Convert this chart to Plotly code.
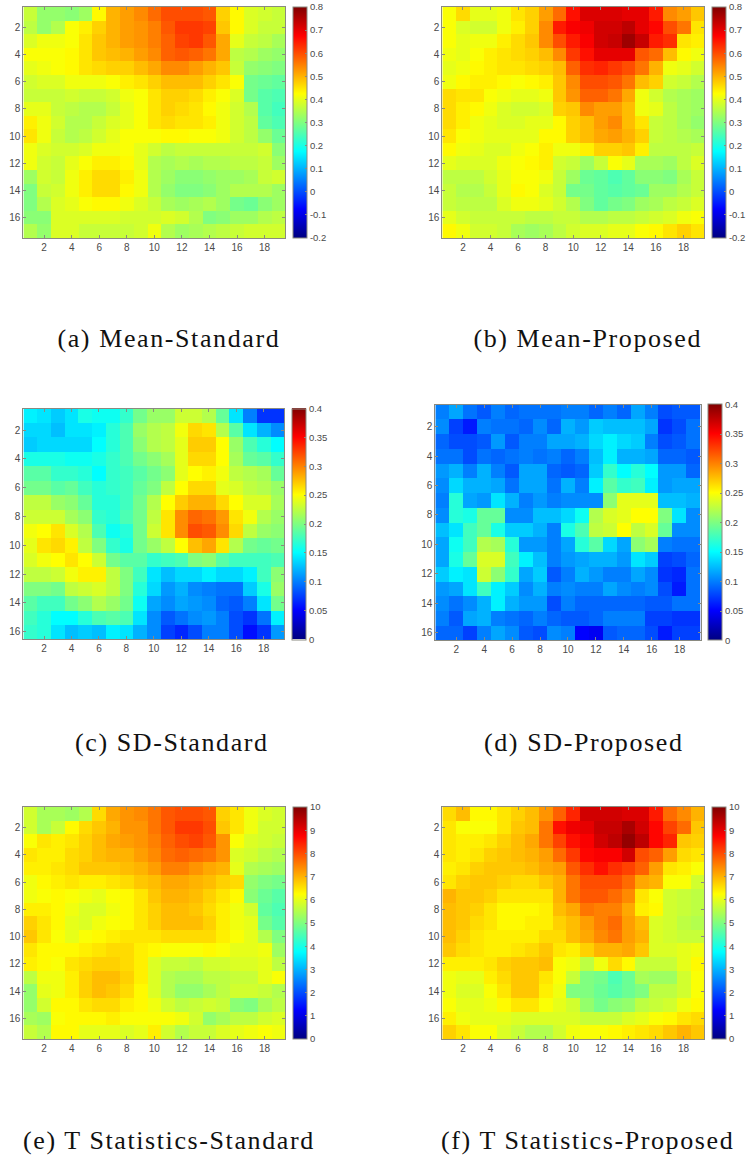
import plotly.graph_objects as go

mean_standard = [
[.37,.32,.32,.31,.33,.43,.50,.52,.54,.57,.60,.60,.60,.59,.47,.43,.39,.38,.37],
[.36,.32,.35,.42,.44,.47,.50,.52,.53,.55,.59,.62,.62,.61,.48,.43,.39,.37,.37],
[.39,.41,.41,.42,.45,.48,.50,.52,.53,.55,.58,.61,.62,.59,.51,.40,.37,.36,.34],
[.42,.42,.42,.43,.45,.48,.49,.50,.52,.54,.58,.59,.58,.56,.51,.36,.35,.33,.32],
[.40,.41,.42,.43,.45,.46,.47,.47,.49,.51,.54,.54,.52,.50,.48,.37,.32,.31,.30],
[.38,.39,.39,.41,.41,.41,.42,.44,.45,.47,.49,.49,.49,.47,.45,.42,.29,.28,.27],
[.37,.37,.37,.38,.37,.37,.38,.41,.42,.45,.47,.47,.46,.44,.42,.39,.29,.26,.25],
[.40,.40,.37,.36,.35,.35,.37,.40,.42,.45,.47,.46,.45,.43,.41,.38,.35,.26,.24],
[.44,.41,.38,.35,.35,.37,.39,.40,.42,.45,.46,.45,.45,.44,.41,.38,.36,.27,.25],
[.45,.41,.37,.35,.36,.38,.40,.42,.42,.42,.43,.43,.42,.42,.41,.38,.36,.32,.28],
[.41,.39,.38,.38,.39,.41,.41,.42,.40,.38,.36,.37,.37,.37,.37,.37,.37,.38,.31],
[.41,.38,.37,.40,.42,.44,.44,.43,.40,.35,.34,.35,.34,.35,.35,.36,.36,.37,.33],
[.33,.38,.37,.41,.44,.46,.46,.44,.41,.35,.33,.31,.31,.32,.33,.33,.34,.37,.38],
[.30,.37,.38,.41,.44,.46,.46,.43,.41,.35,.32,.30,.30,.31,.33,.35,.35,.35,.33],
[.30,.35,.39,.40,.42,.43,.43,.41,.39,.37,.34,.33,.34,.35,.33,.29,.28,.31,.33],
[.31,.31,.39,.39,.39,.39,.39,.38,.38,.38,.39,.38,.35,.30,.31,.33,.33,.35,.36],
[.35,.32,.39,.39,.37,.37,.37,.37,.38,.41,.35,.33,.34,.35,.36,.37,.38,.38,.38],
]

mean_proposed = [
[.42,.46,.40,.40,.41,.45,.47,.52,.57,.66,.71,.71,.71,.70,.70,.65,.54,.52,.48],
[.42,.39,.38,.38,.41,.44,.47,.54,.65,.68,.69,.72,.72,.74,.70,.67,.60,.56,.45],
[.42,.40,.41,.41,.44,.46,.48,.54,.60,.65,.68,.72,.73,.77,.73,.65,.63,.45,.44],
[.41,.40,.42,.44,.45,.46,.47,.49,.54,.62,.66,.70,.70,.70,.59,.57,.49,.43,.41],
[.40,.41,.43,.44,.45,.45,.46,.47,.49,.58,.63,.64,.62,.60,.56,.50,.41,.40,.38],
[.41,.43,.44,.44,.43,.42,.43,.44,.48,.54,.60,.60,.59,.56,.49,.47,.38,.37,.35],
[.46,.45,.45,.42,.41,.40,.40,.41,.48,.53,.58,.58,.56,.51,.41,.38,.35,.34,.33],
[.46,.44,.43,.41,.39,.38,.38,.39,.47,.48,.54,.52,.52,.49,.41,.40,.36,.34,.33],
[.46,.44,.41,.40,.39,.39,.40,.40,.43,.47,.49,.52,.54,.49,.45,.37,.36,.34,.32],
[.45,.42,.41,.40,.40,.40,.40,.43,.43,.47,.49,.51,.52,.50,.47,.37,.36,.35,.34],
[.43,.41,.40,.39,.39,.41,.42,.44,.41,.41,.44,.47,.47,.48,.44,.36,.36,.36,.37],
[.40,.39,.39,.39,.41,.42,.43,.44,.38,.37,.33,.37,.42,.40,.34,.34,.33,.36,.39],
[.36,.36,.36,.38,.40,.42,.42,.41,.37,.33,.28,.27,.25,.27,.31,.31,.30,.34,.37],
[.37,.35,.35,.37,.40,.43,.42,.39,.37,.29,.29,.27,.26,.27,.28,.33,.33,.35,.37],
[.37,.36,.36,.36,.39,.41,.41,.40,.38,.35,.30,.27,.29,.30,.33,.34,.36,.37,.39],
[.40,.38,.37,.37,.37,.37,.36,.36,.37,.37,.35,.35,.36,.36,.37,.38,.39,.41,.42],
[.43,.41,.38,.38,.37,.34,.33,.34,.36,.38,.39,.39,.40,.40,.42,.43,.45,.47,.45],
]

sd_standard = [
[.145,.14,.13,.14,.16,.155,.155,.17,.195,.21,.21,.23,.23,.22,.19,.14,.10,.07,.07],
[.135,.135,.125,.14,.14,.145,.165,.18,.21,.22,.225,.245,.265,.26,.22,.185,.14,.12,.105],
[.13,.135,.135,.135,.135,.15,.165,.18,.205,.22,.225,.24,.27,.27,.25,.21,.18,.165,.15],
[.16,.16,.16,.155,.155,.16,.17,.18,.195,.205,.215,.24,.265,.265,.25,.215,.19,.185,.17],
[.185,.185,.17,.17,.165,.15,.17,.175,.185,.195,.205,.24,.25,.255,.245,.225,.22,.215,.19],
[.195,.195,.185,.19,.175,.165,.17,.175,.19,.20,.225,.25,.265,.265,.24,.235,.225,.22,.21],
[.225,.225,.21,.205,.19,.165,.165,.175,.195,.22,.25,.27,.28,.28,.265,.25,.235,.235,.215],
[.23,.23,.23,.215,.205,.17,.165,.18,.195,.225,.26,.295,.31,.305,.29,.26,.245,.22,.21],
[.245,.25,.26,.235,.22,.18,.155,.165,.195,.23,.26,.295,.32,.315,.295,.265,.225,.21,.205],
[.24,.26,.265,.255,.225,.20,.17,.16,.195,.21,.225,.25,.275,.285,.26,.22,.195,.19,.195],
[.235,.245,.25,.26,.25,.23,.195,.185,.185,.17,.175,.18,.20,.205,.185,.175,.175,.175,.18],
[.225,.225,.23,.245,.255,.255,.225,.20,.175,.14,.125,.135,.135,.145,.135,.135,.145,.175,.205],
[.20,.20,.195,.225,.23,.235,.225,.20,.165,.135,.11,.12,.105,.10,.095,.095,.13,.16,.21],
[.185,.175,.175,.195,.205,.22,.21,.195,.155,.115,.105,.115,.11,.105,.09,.085,.10,.14,.195],
[.175,.165,.15,.15,.165,.18,.185,.18,.14,.105,.085,.095,.105,.11,.10,.08,.07,.095,.145],
[.17,.165,.14,.125,.13,.125,.145,.14,.12,.105,.075,.065,.08,.10,.10,.08,.055,.07,.11],
]

sd_proposed = [
[.10,.115,.095,.085,.10,.09,.095,.095,.095,.10,.10,.09,.10,.09,.115,.10,.08,.085,.085],
[.105,.075,.06,.10,.095,.095,.09,.105,.09,.12,.11,.13,.125,.125,.125,.115,.07,.08,.095],
[.09,.08,.08,.085,.11,.085,.10,.10,.115,.115,.12,.135,.145,.135,.13,.10,.08,.085,.095],
[.095,.095,.08,.095,.09,.095,.10,.095,.10,.09,.10,.125,.145,.12,.12,.115,.09,.09,.085],
[.11,.12,.10,.12,.10,.085,.115,.115,.09,.085,.09,.13,.17,.15,.165,.15,.11,.11,.09],
[.105,.135,.12,.12,.115,.095,.115,.115,.095,.12,.10,.145,.185,.17,.175,.145,.11,.115,.115],
[.10,.165,.115,.11,.14,.12,.10,.11,.10,.105,.105,.105,.205,.24,.24,.24,.125,.125,.12],
[.105,.165,.16,.19,.19,.105,.105,.125,.125,.135,.155,.22,.235,.24,.25,.25,.20,.14,.105],
[.125,.14,.175,.19,.16,.13,.13,.12,.10,.16,.18,.225,.23,.25,.225,.235,.19,.105,.105],
[.115,.155,.175,.22,.215,.165,.11,.11,.10,.115,.165,.185,.135,.115,.205,.215,.10,.095,.095],
[.115,.16,.19,.235,.235,.175,.145,.125,.10,.11,.115,.12,.12,.11,.14,.13,.075,.08,.09],
[.13,.145,.14,.23,.205,.17,.115,.13,.085,.10,.12,.11,.10,.10,.115,.105,.07,.065,.095],
[.11,.115,.14,.175,.145,.13,.105,.12,.10,.105,.10,.10,.115,.105,.10,.105,.08,.06,.095],
[.105,.095,.105,.12,.145,.12,.11,.11,.08,.10,.09,.09,.09,.09,.09,.085,.085,.095,.095],
[.10,.085,.115,.12,.10,.095,.09,.10,.09,.085,.085,.09,.10,.10,.10,.075,.075,.07,.07],
[.09,.09,.075,.10,.115,.105,.085,.08,.105,.10,.05,.045,.085,.09,.09,.08,.06,.075,.075],
]

t_standard = [
[5.8,5.4,5.4,5.3,5.5,6.6,7.1,7.3,7.4,7.6,7.9,8.0,8.0,7.9,6.7,6.5,6.1,5.9,5.8],
[5.8,5.4,5.7,6.3,6.6,6.8,7.0,7.3,7.3,7.6,7.9,8.2,8.2,8.0,6.8,6.5,6.1,5.8,5.8],
[6.2,6.5,6.4,6.5,6.7,6.9,7.1,7.2,7.3,7.5,7.8,8.0,8.1,7.9,7.3,6.2,5.9,5.8,5.7],
[6.5,6.4,6.4,6.6,6.7,6.9,7.0,7.0,7.2,7.4,7.7,7.8,7.7,7.6,7.3,5.9,5.8,5.6,5.5],
[6.4,6.4,6.5,6.6,6.8,6.8,6.8,6.9,7.0,7.2,7.5,7.5,7.3,7.1,7.0,6.0,5.5,5.4,5.3],
[6.1,6.3,6.4,6.5,6.4,6.4,6.5,6.6,6.8,6.9,7.1,7.1,7.0,6.9,6.7,6.6,5.2,5.0,4.9],
[6.1,6.2,6.3,6.2,6.1,6.0,6.2,6.3,6.5,6.8,7.0,7.0,6.9,6.7,6.5,6.3,5.1,4.8,4.6],
[6.4,6.4,6.3,6.1,5.9,5.9,6.1,6.3,6.5,6.7,6.9,6.9,6.8,6.6,6.4,6.1,5.8,4.7,4.5],
[6.7,6.5,6.3,6.0,5.9,6.1,6.2,6.3,6.5,6.7,6.9,6.9,6.9,6.7,6.4,6.1,6.0,4.9,4.6],
[6.8,6.5,6.2,6.0,6.2,6.3,6.4,6.5,6.5,6.5,6.6,6.6,6.6,6.6,6.4,6.2,6.0,5.5,5.0],
[6.5,6.3,6.3,6.3,6.4,6.5,6.6,6.6,6.4,6.3,6.2,6.2,6.2,6.3,6.2,6.0,6.0,6.1,5.3],
[6.4,6.3,6.2,6.5,6.6,6.7,6.7,6.6,6.4,5.9,5.7,5.7,5.6,5.8,5.8,5.9,5.9,6.0,5.6],
[5.6,6.1,6.1,6.4,6.7,6.9,6.9,6.7,6.4,5.9,5.5,5.4,5.4,5.6,5.6,5.7,5.7,6.0,6.2],
[5.2,6.0,6.1,6.4,6.7,6.9,6.8,6.6,6.3,5.9,5.5,5.2,5.2,5.4,5.6,5.8,5.8,5.7,5.5],
[5.2,5.8,6.3,6.3,6.5,6.6,6.6,6.4,6.3,6.1,5.8,5.6,5.7,5.8,5.7,5.1,5.0,5.4,5.6],
[5.4,5.3,6.2,6.3,6.3,6.3,6.4,6.2,6.2,6.2,6.2,6.1,5.8,5.2,5.4,5.6,5.6,5.8,5.9],
[5.7,5.5,6.3,6.3,6.0,6.0,6.0,5.9,6.0,6.4,5.8,5.5,5.7,5.7,5.9,6.0,6.1,6.2,6.1],
]

t_proposed = [
[6.6,6.9,6.3,6.3,6.5,6.7,6.9,7.3,7.8,8.4,9.2,9.2,9.2,9.1,9.1,8.5,7.7,7.4,7.0],
[6.5,6.2,6.2,6.2,6.5,6.8,6.9,7.6,8.6,8.9,9.0,9.3,9.3,9.6,9.2,8.7,8.1,7.7,6.8],
[6.5,6.4,6.4,6.5,6.7,6.9,7.1,7.6,8.1,8.6,8.8,9.2,9.4,9.8,9.4,8.7,8.4,6.8,6.7],
[6.5,6.4,6.5,6.7,6.8,6.9,7.0,7.2,7.7,8.2,8.7,8.8,8.8,9.2,8.0,7.8,7.2,6.6,6.5],
[6.4,6.5,6.7,6.8,6.8,6.8,6.9,7.1,7.2,7.9,8.3,8.6,8.3,8.1,7.8,7.2,6.5,6.4,6.2],
[6.5,6.7,6.8,6.8,6.7,6.6,6.6,6.8,7.0,7.6,8.0,8.0,8.0,7.7,7.1,7.0,6.2,6.2,5.8],
[7.0,6.8,6.8,6.7,6.5,6.5,6.5,6.5,7.0,7.6,7.9,7.9,7.7,7.4,6.5,6.2,5.8,5.7,5.6],
[6.9,6.8,6.7,6.5,6.3,6.3,6.3,6.4,6.9,7.1,7.6,7.5,7.5,7.1,6.4,6.3,5.8,5.7,5.6],
[6.9,6.8,6.6,6.5,6.3,6.3,6.4,6.4,6.7,6.9,7.2,7.5,7.7,7.2,6.9,5.9,5.8,5.6,5.5],
[6.9,6.7,6.5,6.4,6.4,6.4,6.4,6.6,6.6,6.9,7.1,7.4,7.6,7.2,7.0,5.9,5.8,5.7,5.7],
[6.8,6.6,6.5,6.4,6.4,6.5,6.6,6.8,6.5,6.4,6.7,7.0,7.0,7.1,6.8,5.9,5.9,6.0,6.1],
[6.4,6.4,6.4,6.5,6.7,6.8,6.8,6.9,6.2,6.1,5.6,6.1,6.6,6.3,5.7,5.7,5.7,6.0,6.3],
[6.1,6.0,6.0,6.4,6.6,6.8,6.8,6.5,6.2,5.7,5.0,4.9,4.5,4.8,5.4,5.3,5.3,5.8,6.2],
[6.1,5.9,5.9,6.2,6.5,6.8,6.8,6.4,6.1,5.0,5.0,4.8,4.6,4.8,5.0,5.6,5.6,5.8,6.2],
[6.2,6.0,6.0,6.1,6.3,6.5,6.5,6.2,6.0,5.8,5.2,4.9,5.1,5.2,5.6,5.7,5.8,6.1,6.3],
[6.4,6.1,6.0,6.0,6.0,5.9,5.9,5.9,5.9,5.9,5.7,5.7,5.7,5.9,6.0,6.2,6.3,6.5,6.6],
[6.7,6.5,6.2,6.2,5.9,5.7,5.5,5.5,5.8,6.1,6.2,6.2,6.3,6.4,6.5,6.6,6.8,7.0,6.8],
]

captions = ["(a) Mean-Standard", "(b) Mean-Proposed", "(c) SD-Standard",
            "(d) SD-Proposed", "(e) T Statistics-Standard", "(f) T Statistics-Proposed"]
caption_centers = [169, 589, 172, 586, 169, 589]
caption_y = [338, 338, 742, 742, 1140, 1140]

mean_ticks = [-0.2, -0.1, 0, 0.1, 0.2, 0.3, 0.4, 0.5, 0.6, 0.7, 0.8]
mean_labels = ["-0.2", "-0.1", "0", "0.1", "0.2", "0.3", "0.4", "0.5", "0.6", "0.7", "0.8"]
sd_ticks = [0, 0.05, 0.1, 0.15, 0.2, 0.25, 0.3, 0.35, 0.4]
sd_labels = ["0", "0.05", "0.1", "0.15", "0.2", "0.25", "0.3", "0.35", "0.4"]
t_ticks = [0, 1, 2, 3, 4, 5, 6, 7, 8, 9, 10]
t_labels = ["0", "1", "2", "3", "4", "5", "6", "7", "8", "9", "10"]
x_ticks = [2, 4, 6, 8, 10, 12, 14, 16, 18]
y_ticks = [2, 4, 6, 8, 10, 12, 14, 16]

JET = [[0, "rgb(0,0,128)"], [0.125, "rgb(0,0,255)"], [0.375, "rgb(0,255,255)"],
       [0.625, "rgb(255,255,0)"], [0.875, "rgb(255,0,0)"], [1, "rgb(128,0,0)"]]

W, H = 748, 1157
AXC = "#8a8a80"
TXT = "#4a4a4a"
FONT = "Liberation Sans"

# data, zmin, zmax, tickvals, ticktext, plot box (x0,x1,y0,y1), colorbar x0
panels = [
    (mean_standard, -0.2, 0.8, mean_ticks, mean_labels, (23.5, 286, 7, 238), 293.5),
    (mean_proposed, -0.2, 0.8, mean_ticks, mean_labels, (443.5, 706, 7, 238), 713.5),
    (sd_standard, 0, 0.4, sd_ticks, sd_labels, (23.5, 285, 408.5, 639), 292.5),
    (sd_proposed, 0, 0.4, sd_ticks, sd_labels, (436.5, 702.5, 404.5, 640), 710),
    (t_standard, 0, 10, t_ticks, t_labels, (23.5, 286, 807, 1039), 293.5),
    (t_proposed, 0, 10, t_ticks, t_labels, (443.5, 706, 807, 1039), 713.5),
]

fig = go.Figure()
layout = dict(
    width=W, height=H, margin=dict(l=0, r=0, t=0, b=0, pad=0),
    paper_bgcolor="white", plot_bgcolor="white", showlegend=False,
    font=dict(family=FONT, size=10, color=TXT),
)

for i, (z, zmin, zmax, tv, tt, (x0, x1, y0, y1), cbx) in enumerate(panels):
    s = "" if i == 0 else str(i + 1)
    nrows = len(z)
    fig.add_trace(go.Heatmap(
        z=z, x=list(range(1, 20)), y=list(range(1, nrows + 1)),
        zmin=zmin, zmax=zmax, colorscale=JET, zsmooth=False,
        xaxis="x" + s, yaxis="y" + s, hoverongaps=False,
        colorbar=dict(
            x=cbx / W, xanchor="left", xpad=0, y=1 - y0 / H, yanchor="top", ypad=0,
            len=(y1 - y0) / H, lenmode="fraction", thickness=13.5, thicknessmode="pixels",
            outlinecolor=AXC, outlinewidth=1, borderwidth=0,
            tickmode="array", tickvals=tv, ticktext=tt, ticks="inside", ticklen=2,
            tickcolor=AXC, tickfont=dict(family=FONT, size=9.5, color=TXT),
        ),
    ))
    layout["xaxis" + s] = dict(
        domain=[x0 / W, x1 / W], range=[0.5, 19.5], anchor="y" + s,
        tickmode="array", tickvals=x_ticks, ticks="inside", ticklen=3, tickcolor=AXC,
        showline=True, linecolor=AXC, linewidth=1, mirror="ticks", showgrid=False, zeroline=False,
        tickfont=dict(family=FONT, size=10, color=TXT),
    )
    layout["yaxis" + s] = dict(
        domain=[1 - y1 / H, 1 - y0 / H], range=[nrows + 0.5, 0.5], anchor="x" + s,
        tickmode="array", tickvals=y_ticks, ticks="inside", ticklen=3, tickcolor=AXC,
        showline=True, linecolor=AXC, linewidth=1, mirror="ticks", showgrid=False, zeroline=False,
        tickfont=dict(family=FONT, size=10, color=TXT),
    )

annotations = [
    dict(text=c, x=cx / W, y=1 - cy / H, xref="paper", yref="paper",
         xanchor="center", yanchor="middle", showarrow=False,
         font=dict(family="Liberation Serif", size=26, color="#111111"))
    for c, cx, cy in zip(captions, caption_centers, caption_y)
]
fig.update_layout(annotations=annotations, **layout)

fig.write_html(
    "out.html",
    config={"displayModeBar": False},
    post_script="document.body.style.margin='0';"
                "document.querySelectorAll('.annotation-text').forEach(function(t){t.style.letterSpacing='1.6px';});",
)
